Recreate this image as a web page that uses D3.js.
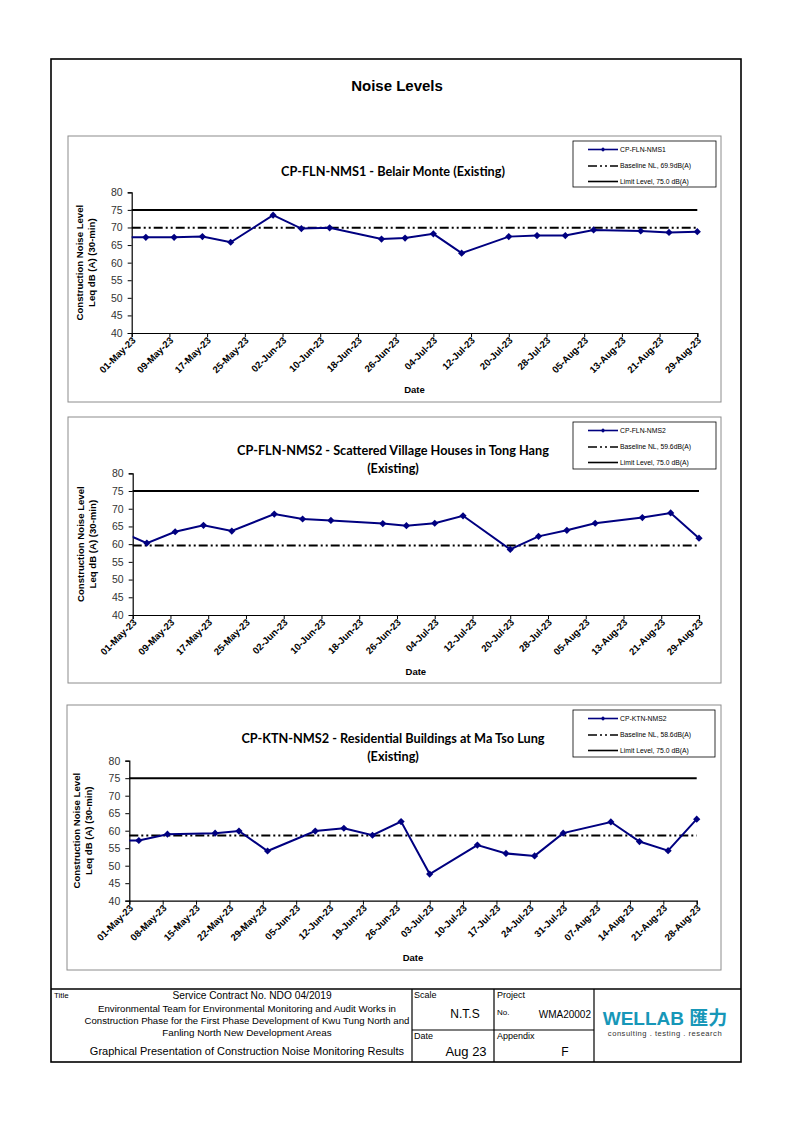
<!DOCTYPE html>
<html>
<head>
<meta charset="utf-8">
<script src="https://cdn.jsdelivr.net/npm/d3@7/dist/d3.min.js"></script>
<style>
  html, body { margin: 0; padding: 0; background: #fff; }
  svg { display: block; }
  .ax text { font-family: "Liberation Sans", Arial, sans-serif; }
</style>
</head>
<body>
<svg id="page" width="794" height="1123"></svg>
<script>
// ---------------- DATA ----------------
const yTicks = [40, 45, 50, 55, 60, 65, 70, 75, 80];

const xTicks1 = ["01-May-23","09-May-23","17-May-23","25-May-23","02-Jun-23","10-Jun-23","18-Jun-23","26-Jun-23","04-Jul-23","12-Jul-23","20-Jul-23","28-Jul-23","05-Aug-23","13-Aug-23","21-Aug-23","29-Aug-23"];
const xTicks2 = xTicks1;
const xTicks3 = ["01-May-23","08-May-23","15-May-23","22-May-23","29-May-23","05-Jun-23","12-Jun-23","19-Jun-23","26-Jun-23","03-Jul-23","10-Jul-23","17-Jul-23","24-Jul-23","31-Jul-23","07-Aug-23","14-Aug-23","21-Aug-23","28-Aug-23"];

// CP-FLN-NMS1
const dates1  = ["2023-04-27","2023-05-04","2023-05-10","2023-05-16","2023-05-22","2023-05-31","2023-06-06","2023-06-12","2023-06-23","2023-06-28","2023-07-04","2023-07-10","2023-07-20","2023-07-26","2023-08-01","2023-08-07","2023-08-17","2023-08-23","2023-08-29"];
const values1 = [67.2, 67.2, 67.2, 67.4, 65.8, 73.5, 69.7, 69.9, 66.7, 67.0, 68.2, 62.7, 67.4, 67.7, 67.7, 69.3, 69.0, 68.6, 68.8];
const baseline1 = 69.9;
const limit1 = 75.0;

// CP-FLN-NMS2
const dates2  = ["2023-04-27","2023-05-04","2023-05-10","2023-05-16","2023-05-22","2023-05-31","2023-06-06","2023-06-12","2023-06-23","2023-06-28","2023-07-04","2023-07-10","2023-07-20","2023-07-26","2023-08-01","2023-08-07","2023-08-17","2023-08-23","2023-08-29"];
const values2 = [64.4, 60.3, 63.5, 65.3, 63.7, 68.5, 67.1, 66.7, 65.8, 65.2, 65.9, 68.0, 58.5, 62.2, 63.9, 65.9, 67.5, 68.8, 61.7];
const baseline2 = 59.6;
const limit2 = 75.0;

// CP-KTN-NMS2
const dates3  = ["2023-04-26","2023-05-03","2023-05-09","2023-05-19","2023-05-24","2023-05-30","2023-06-09","2023-06-15","2023-06-21","2023-06-27","2023-07-03","2023-07-13","2023-07-19","2023-07-25","2023-07-31","2023-08-10","2023-08-16","2023-08-22","2023-08-28"];
const values3 = [57.2, 57.2, 59.0, 59.3, 59.9, 54.2, 59.9, 60.7, 58.7, 62.6, 47.6, 55.9, 53.5, 52.8, 59.3, 62.5, 56.9, 54.3, 63.3];
const baseline3 = 58.6;
const limit3 = 75.0;

const series = [
  { id: 1, name: "CP-FLN-NMS1", titleLines: ["CP-FLN-NMS1 - Belair Monte (Existing)"],
    dates: dates1, values: values1, baseline: baseline1, limit: limit1, xTicks: xTicks1,
    baselineLabel: "Baseline NL,  69.9dB(A)", limitLabel: "Limit Level, 75.0 dB(A)" },
  { id: 2, name: "CP-FLN-NMS2", titleLines: ["CP-FLN-NMS2 - Scattered Village Houses in Tong Hang", "(Existing)"],
    dates: dates2, values: values2, baseline: baseline2, limit: limit2, xTicks: xTicks2,
    baselineLabel: "Baseline NL,  59.6dB(A)", limitLabel: "Limit Level, 75.0 dB(A)" },
  { id: 3, name: "CP-KTN-NMS2", titleLines: ["CP-KTN-NMS2 - Residential Buildings at Ma Tso Lung", "(Existing)"],
    dates: dates3, values: values3, baseline: baseline3, limit: limit3, xTicks: xTicks3,
    baselineLabel: "Baseline NL,  58.6dB(A)", limitLabel: "Limit Level, 75.0 dB(A)" }
];

// ---------------- LAYOUT ----------------
const layouts = [
  { box: [68, 136, 653, 266], x0: 131.7, x1: 697.3, yTop: 192.3, yBot: 333, titleY: 176, legend: [573, 141, 143, 46], dateY: 393 },
  { box: [68, 417, 653, 266], x0: 132.7, x1: 699, yTop: 473.3, yBot: 615, titleY: 455, legend: [573, 422, 143, 47], dateY: 675 },
  { box: [67, 705, 654, 265], x0: 129.3, x1: 696.7, yTop: 760.7, yBot: 900.7, titleY: 743, legend: [573, 710, 142, 47], dateY: 961 }
];

const svg = d3.select("#page");
const parseISO = d3.timeParse("%Y-%m-%d");
const parseTick = d3.timeParse("%d-%b-%y");
const NAVY = "#000080";
const SANS = "'Liberation Sans', Arial, Helvetica, sans-serif";
const TITLEF = "Lato, 'Open Sans', sans-serif";
const diamond = d3.symbol().type(d3.symbolSquare);

// outer frame
svg.append("rect").attr("x", 51).attr("y", 59).attr("width", 690).attr("height", 1003)
  .attr("fill", "none").attr("stroke", "#000").attr("stroke-width", 1.6);

svg.append("text").attr("x", 397).attr("y", 91).attr("text-anchor", "middle")
  .attr("font-family", SANS).attr("font-weight", "bold").attr("font-size", 15)
  .text("Noise Levels");

series.forEach((s, i) => {
  const L = layouts[i];
  const g = svg.append("g");
  g.append("rect").attr("x", L.box[0]).attr("y", L.box[1]).attr("width", L.box[2]).attr("height", L.box[3])
    .attr("fill", "#fff").attr("stroke", "#8c8c8c").attr("stroke-width", 1);

  const tickDates = s.xTicks.map(parseTick);
  const x = d3.scaleTime().domain([tickDates[0], tickDates[tickDates.length - 1]]).range([L.x0, L.x1]);
  const y = d3.scaleLinear().domain([40, 80]).range([L.yBot, L.yTop]);

  // title
  s.titleLines.forEach((t, k) => {
    g.append("text").attr("x", 393).attr("y", L.titleY + k * 18).attr("text-anchor", "middle")
      .attr("font-family", TITLEF).attr("font-weight", "bold").attr("font-size", 12.7).attr("fill", "#000").text(t);
  });

  // y axis
  const ya = g.append("g").attr("class", "ax").attr("transform", `translate(${L.x0},0)`)
    .call(d3.axisLeft(y).tickValues(yTicks).tickSize(4).tickPadding(5).tickFormat(d3.format("d")));
  ya.select(".domain").attr("stroke", "#000").attr("stroke-width", 1.2);
  ya.selectAll(".tick line").attr("stroke", "#000");
  ya.selectAll("text").attr("font-size", 10.5).attr("fill", "#333");

  // x axis
  const xa = g.append("g").attr("class", "ax").attr("transform", `translate(0,${L.yBot})`)
    .call(d3.axisBottom(x).tickValues(tickDates).tickSize(4).tickFormat(d3.timeFormat("%d-%b-%y")));
  xa.select(".domain").attr("stroke", "#000").attr("stroke-width", 1.2);
  xa.selectAll(".tick line").attr("stroke", "#000");
  xa.selectAll("text").attr("font-size", 9.6).attr("font-weight", "bold").attr("fill", "#000")
    .attr("text-anchor", "end").attr("dy", 0).attr("y", 0)
    .attr("transform", "translate(4,8) rotate(-45)");

  // axis titles
  const ycy = (L.yTop + L.yBot) / 2;
  g.append("text").attr("transform", `translate(${L.x0 - 49},${ycy}) rotate(-90)`).attr("text-anchor", "middle")
    .attr("font-family", SANS).attr("font-weight", "bold").attr("font-size", 9.6).text("Construction Noise Level");
  g.append("text").attr("transform", `translate(${L.x0 - 37},${ycy}) rotate(-90)`).attr("text-anchor", "middle")
    .attr("font-family", SANS).attr("font-weight", "bold").attr("font-size", 9.6).text("Leq dB (A) (30-min)");
  g.append("text").attr("x", (L.x0 + L.x1) / 2).attr("y", L.dateY).attr("text-anchor", "middle")
    .attr("font-family", SANS).attr("font-weight", "bold").attr("font-size", 9.5).text("Date");

  // reference lines
  const xr = x.range();
  g.append("line").attr("x1", xr[0]).attr("x2", xr[1]).attr("y1", y(s.limit)).attr("y2", y(s.limit))
    .attr("stroke", "#000").attr("stroke-width", 2);
  g.append("line").attr("x1", xr[0]).attr("x2", xr[1]).attr("y1", y(s.baseline)).attr("y2", y(s.baseline))
    .attr("stroke", "#000").attr("stroke-width", 2).attr("stroke-dasharray", "9,3,2,3,2,3");

  // series line, clipped to plot
  const clipId = "clip" + s.id;
  svg.append("clipPath").attr("id", clipId).append("rect")
    .attr("x", xr[0]).attr("y", L.yTop - 10).attr("width", xr[1] - xr[0] + 8).attr("height", L.yBot - L.yTop + 10);
  const pts = s.dates.map((d, k) => ({ d: parseISO(d), v: s.values[k] }));
  const inside = pts.filter(p => p.d >= tickDates[0]);
  const sg = g.append("g").attr("clip-path", `url(#${clipId})`);
  sg.append("path").datum(pts).attr("fill", "none").attr("stroke", NAVY).attr("stroke-width", 2)
    .attr("d", d3.line().x(p => x(p.d)).y(p => y(p.v)));
  g.selectAll(".mk" + s.id).data(inside).enter().append("path")
    .attr("transform", p => `translate(${x(p.d)},${y(p.v)}) rotate(45)`)
    .attr("d", diamond.size(26)).attr("fill", NAVY);

  // legend
  const [lx, ly, lw, lh] = L.legend;
  const lg = g.append("g");
  lg.append("rect").attr("x", lx).attr("y", ly).attr("width", lw).attr("height", lh)
    .attr("fill", "#fff").attr("stroke", "#000").attr("stroke-width", 0.8);
  const rows = [ly + 8.5, ly + 25, ly + 40.5];
  const sx0 = lx + 15, sx1 = lx + 45;
  lg.append("line").attr("x1", sx0).attr("x2", sx1).attr("y1", rows[0]).attr("y2", rows[0]).attr("stroke", NAVY).attr("stroke-width", 1.6);
  lg.append("path").attr("transform", `translate(${(sx0 + sx1) / 2},${rows[0]}) rotate(45)`)
    .attr("d", diamond.size(10)).attr("fill", NAVY);
  lg.append("line").attr("x1", sx0).attr("x2", sx1).attr("y1", rows[1]).attr("y2", rows[1]).attr("stroke", "#000").attr("stroke-width", 1.6).attr("stroke-dasharray", "9,3,2,3,2,3");
  lg.append("line").attr("x1", sx0).attr("x2", sx1).attr("y1", rows[2]).attr("y2", rows[2]).attr("stroke", "#000").attr("stroke-width", 1.6);
  [s.name, s.baselineLabel, s.limitLabel].forEach((t, k) => {
    lg.append("text").attr("x", sx1 + 2).attr("y", rows[k] + 2.4).attr("font-family", SANS)
      .attr("font-size", 6.8).attr("fill", "#000").text(t);
  });
});

// ---------------- FOOTER ----------------
const NARROW = "'Liberation Sans Narrow', 'Arial Narrow', 'Liberation Sans', sans-serif";
const ft = svg.append("g");
ft.append("line").attr("x1", 51).attr("x2", 741).attr("y1", 989).attr("y2", 989).attr("stroke", "#000").attr("stroke-width", 1.6);
[412, 494, 594].forEach(xv => ft.append("line").attr("x1", xv).attr("x2", xv).attr("y1", 989).attr("y2", 1062).attr("stroke", "#000").attr("stroke-width", 1.2));
ft.append("line").attr("x1", 412).attr("x2", 594).attr("y1", 1030).attr("y2", 1030).attr("stroke", "#000").attr("stroke-width", 1.2);

function ftext(t, xx, yy, size, anchor, fam, weight, fill, ls) {
  ft.append("text").attr("x", xx).attr("y", yy).attr("font-size", size).attr("text-anchor", anchor || "start")
    .attr("font-family", fam || NARROW).attr("font-weight", weight || "normal").attr("fill", fill || "#000")
    .attr("letter-spacing", ls || 0).text(t);
}
ftext("Title", 54, 998, 8);
ftext("Service Contract No. NDO 04/2019", 252, 999, 10.2, "middle");
ftext("Environmental Team for Environmental Monitoring and Audit Works in", 247, 1012, 9.7, "middle");
ftext("Construction Phase for the First Phase Development of Kwu Tung North and", 247, 1024, 9.6, "middle");
ftext("Fanling North New Development Areas", 247, 1036, 9.8, "middle");
ftext("Graphical Presentation of Construction Noise Monitoring Results", 247, 1055, 11, "middle");
ftext("Scale", 414, 998, 9);
ftext("N.T.S", 465, 1018, 12, "middle");
ftext("Project", 497, 998, 9);
ftext("No.", 497, 1015, 8);
ftext("WMA20002", 591, 1018, 10, "end");
ftext("Date", 414, 1039, 9);
ftext("Aug 23", 466, 1056, 13, "middle");
ftext("Appendix", 497, 1039, 9);
ftext("F", 565, 1056, 12, "middle");
ftext("WELLAB 匯力", 665, 1025, 19, "middle", "'Liberation Sans', 'Noto Sans CJK TC', sans-serif", "bold", "#1797b8");
ftext("consulting . testing . research", 665, 1036, 7.6, "middle", "'Liberation Sans', sans-serif", "normal", "#333", 0.5);
</script>
</body>
</html>
